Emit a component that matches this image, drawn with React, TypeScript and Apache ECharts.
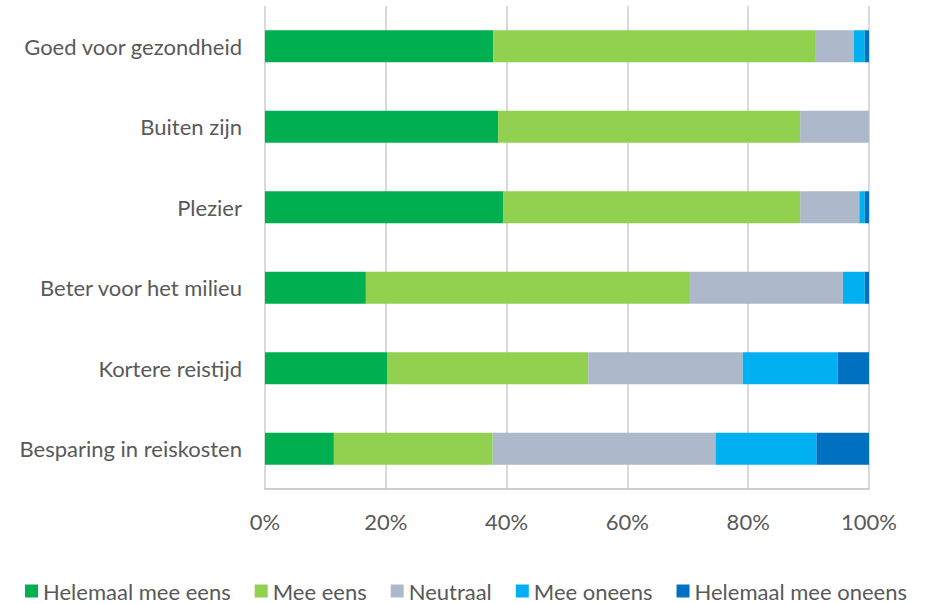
import React, { useEffect, useRef } from "react";
import * as echarts from "echarts";

const categories = [
  "Goed voor gezondheid",
  "Buiten zijn",
  "Plezier",
  "Beter voor het milieu",
  "Kortere reistijd",
  "Besparing in reiskosten",
];
const seriesNames = [
  "Helemaal mee eens",
  "Mee eens",
  "Neutraal",
  "Mee oneens",
  "Helemaal mee oneens",
];
const helemaalMeeEens = [37.8, 38.6, 39.4, 16.7, 20.2, 11.4];
const meeEens = [53.4, 50.0, 49.2, 53.5, 33.3, 26.3];
const neutraal = [6.3, 11.4, 9.8, 25.5, 25.6, 36.9];
const meeOneens = [1.8, 0, 0.9, 3.6, 15.7, 16.7];
const helemaalMeeOneens = [0.7, 0, 0.7, 0.7, 5.2, 8.7];
const xTicks = [0, 20, 40, 60, 80, 100];

const colors = ["#00B050", "#92D050", "#ADB9CA", "#00B0F0", "#0070C0"];
const FONT = "Lato, 'Noto Sans', sans-serif";

export default function App() {
  const ref = useRef<HTMLDivElement>(null);
  useEffect(() => {
    if (!ref.current) return;
    const chart = echarts.init(ref.current, undefined, { renderer: "svg" });
    const values = [helemaalMeeEens, meeEens, neutraal, meeOneens, helemaalMeeOneens];
    chart.setOption({
      animation: false,
      color: colors,
      textStyle: { fontFamily: FONT },
      grid: { left: 265, right: 63, top: 6, bottom: 115, containLabel: false },
      legend: {
        bottom: -3,
        left: "center",
        itemWidth: 13,
        itemHeight: 13,
        itemGap: 24,
        icon: "rect",
        textStyle: { fontSize: 22, color: "#595959", fontFamily: FONT },
        data: seriesNames,
      },
      xAxis: {
        type: "value",
        min: xTicks[0],
        max: xTicks[xTicks.length - 1],
        interval: 20,
        axisLine: { show: true, lineStyle: { color: "#BFBFBF", width: 1.5 } },
        axisTick: { show: false },
        splitLine: { show: true, lineStyle: { color: "#D9D9D9", width: 2 } },
        axisLabel: {
          formatter: (v: number) => v + "%",
          fontSize: 22,
          color: "#595959",
          margin: 21,
          fontFamily: FONT,
        },
      },
      yAxis: {
        type: "category",
        inverse: true,
        data: categories,
        axisLine: { show: false },
        axisTick: { show: false },
        axisLabel: { fontSize: 22, color: "#595959", margin: 23, fontFamily: FONT },
      },
      series: seriesNames.map((name, i) => ({
        name,
        type: "bar",
        stack: "total",
        barWidth: 32,
        data: values[i],
        itemStyle: { color: colors[i] },
      })),
    });
    return () => chart.dispose();
  }, []);
  return <div ref={ref} style={{ width: 932, height: 604, position: "absolute", left: 0, top: 0 }} />;
}
